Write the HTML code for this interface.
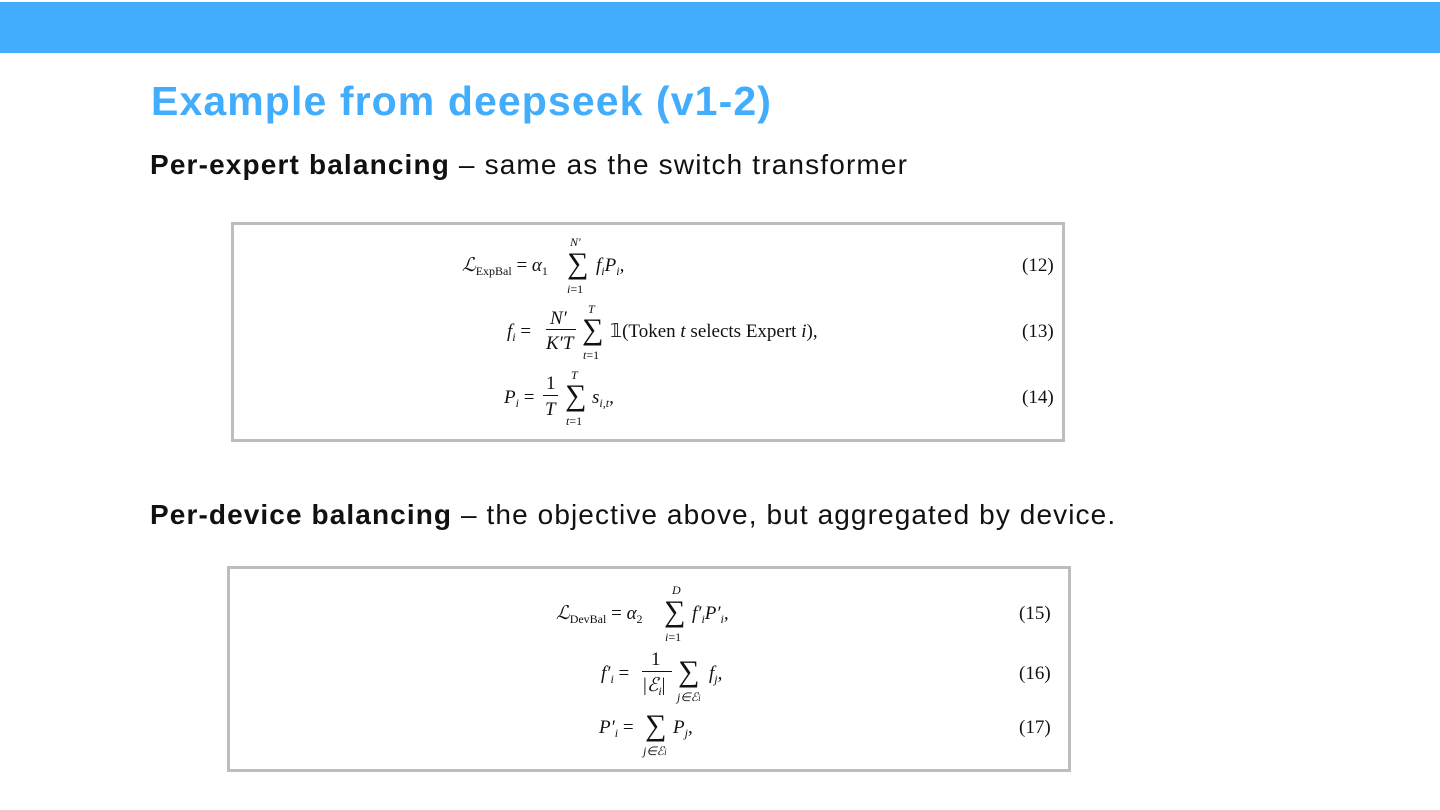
<!DOCTYPE html>
<html><head><meta charset="utf-8"><style>
body{margin:0;width:1440px;height:810px;background:#fff;position:relative;overflow:hidden;font-family:"Liberation Sans",sans-serif}
.bar{position:absolute;left:0;top:2px;width:1440px;height:51px;background:#42adfd}
.t{position:absolute;white-space:nowrap}
.box{position:absolute;border:3px solid #bdbdbd;box-sizing:border-box;background:#fff}
.m{position:absolute;white-space:nowrap;font-family:"Liberation Serif",serif;font-size:19px;color:#111;line-height:1}
.s{font-size:12px;vertical-align:-4px}
.u{font-size:12px}
.sum{font-size:30px}
.i{font-style:italic}
.fr{position:absolute;border-top:1px solid #111}
</style></head><body>
<div class="bar"></div>
<div class="t" style="left:151px;top:78px;font-size:41px;font-weight:bold;color:#42adfd;letter-spacing:1.1px">Example from deepseek (v1-2)</div>
<div class="t" style="left:150px;top:149px;font-size:28px;color:#111;letter-spacing:1.15px"><b>Per-expert balancing</b> – same as the switch transformer</div>
<div class="t" style="left:150px;top:499px;font-size:28px;color:#111;letter-spacing:1.1px"><b>Per-device balancing</b> – the objective above, but aggregated by device.</div>

<div class="box" style="left:231px;top:222px;width:834px;height:220px"></div>
<div class="box" style="left:227px;top:566px;width:844px;height:206px"></div>

<!-- eq 12 -->
<div class="m" style="left:462px;top:256px"><span class="i">ℒ</span><span class="s">ExpBal</span> = <span class="i">α</span><span class="s">1</span></div>
<div class="m i u" style="left:570px;top:236px">N′</div>
<div class="m sum" style="left:567px;top:249px">∑</div>
<div class="m u" style="left:567px;top:283px"><i>i</i>=1</div>
<div class="m i" style="left:596px;top:256px">f<span class="s">i</span>P<span class="s">i</span>,</div>
<div class="m" style="left:1022px;top:256px">(12)</div>
<!-- eq 13 -->
<div class="m i" style="left:507px;top:322px">f<span class="s">i</span> <span style="font-style:normal">=</span></div>
<div class="m i" style="left:550px;top:309px">N′</div>
<div class="fr" style="left:546px;top:329px;width:30px"></div>
<div class="m i" style="left:546px;top:334px">K′T</div>
<div class="m i u" style="left:588px;top:303px">T</div>
<div class="m sum" style="left:582px;top:315px">∑</div>
<div class="m u" style="left:583px;top:349px"><i>t</i>=1</div>
<div class="m" style="left:610px;top:322px">𝟙(Token <i>t</i> selects Expert <i>i</i>),</div>
<div class="m" style="left:1022px;top:322px">(13)</div>
<!-- eq 14 -->
<div class="m i" style="left:504px;top:388px">P<span class="s">i</span> <span style="font-style:normal">=</span></div>
<div class="m" style="left:546px;top:374px">1</div>
<div class="fr" style="left:543px;top:395px;width:15px"></div>
<div class="m i" style="left:545px;top:400px">T</div>
<div class="m i u" style="left:571px;top:369px">T</div>
<div class="m sum" style="left:565px;top:381px">∑</div>
<div class="m u" style="left:566px;top:415px"><i>t</i>=1</div>
<div class="m i" style="left:592px;top:388px">s<span class="s">i,t</span>,</div>
<div class="m" style="left:1022px;top:388px">(14)</div>

<!-- eq 15 -->
<div class="m" style="left:556px;top:604px"><span class="i">ℒ</span><span class="s">DevBal</span> = <span class="i">α</span><span class="s">2</span></div>
<div class="m i u" style="left:672px;top:584px">D</div>
<div class="m sum" style="left:664px;top:597px">∑</div>
<div class="m u" style="left:665px;top:631px"><i>i</i>=1</div>
<div class="m i" style="left:692px;top:604px">f′<span class="s">i</span>P′<span class="s">i</span>,</div>
<div class="m" style="left:1019px;top:604px">(15)</div>
<!-- eq 16 -->
<div class="m i" style="left:601px;top:664px">f′<span class="s">i</span> <span style="font-style:normal">=</span></div>
<div class="m" style="left:651px;top:650px">1</div>
<div class="fr" style="left:642px;top:671px;width:30px"></div>
<div class="m" style="left:643px;top:676px">|<i>ℰ</i><span class="s i">i</span>|</div>
<div class="m sum" style="left:678px;top:657px">∑</div>
<div class="m u i" style="left:677px;top:691px">j∈ℰ<span style="font-size:9px">i</span></div>
<div class="m i" style="left:709px;top:664px">f<span class="s">j</span>,</div>
<div class="m" style="left:1019px;top:664px">(16)</div>
<!-- eq 17 -->
<div class="m i" style="left:599px;top:718px">P′<span class="s">i</span> <span style="font-style:normal">=</span></div>
<div class="m sum" style="left:645px;top:711px">∑</div>
<div class="m u i" style="left:643px;top:745px">j∈ℰ<span style="font-size:9px">i</span></div>
<div class="m i" style="left:673px;top:718px">P<span class="s">j</span>,</div>
<div class="m" style="left:1019px;top:718px">(17)</div>
</body></html>
